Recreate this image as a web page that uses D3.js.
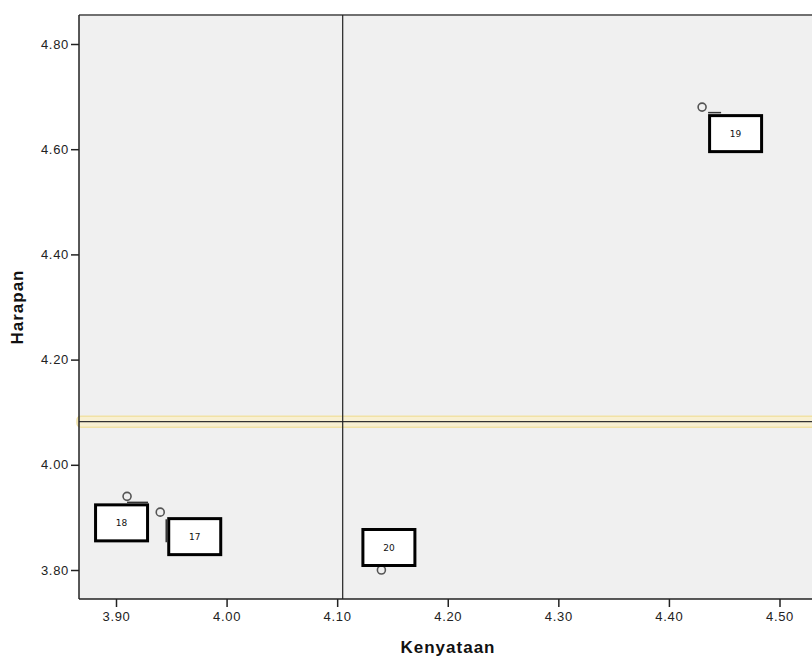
<!DOCTYPE html>
<html><head><meta charset="utf-8">
<script src="https://cdn.jsdelivr.net/npm/d3@7/dist/d3.min.js"></script>
<style>body{margin:0;background:#fff}svg{display:block}</style>
</head><body>
<svg id="c" width="812" height="668"></svg>
<script>
// ---- data ----
const caseLabels = ["17", "18", "19", "20"];
const kenyataan = [3.94, 3.91, 4.43, 4.14];
const harapan = [3.91, 3.94, 4.68, 3.80];
const meanKenyataan = 4.105;
const meanHarapan = 4.082;
const xTicks = [3.90, 4.00, 4.10, 4.20, 4.30, 4.40, 4.50];
const yTicks = [3.80, 4.00, 4.20, 4.40, 4.60, 4.80];
const xTitle = "Kenyataan";
const yTitle = "Harapan";

// ---- layout ----
const plot = {left: 79, top: 15, right: 815, bottom: 599};
const labelOffsets = [[7, 5], [-33, 7], [6, 7], [-20, -42]];
// short visible connector stubs (relative to point): [x1,y1,x2,y2] or null
const connectors = [[6, 7, 6, 30], [0, 6, 21, 6], [6, 5.5, 19, 5.5], null];
const boxW = 55, boxH = 39;

const svg = d3.select("#c");
const x = d3.scaleLinear().domain([3.90, 4.50]).range([116, 779.5]);
const y = d3.scaleLinear().domain([3.80, 4.80]).range([570, 44]);

// plot background
svg.append("rect").attr("x", plot.left).attr("y", plot.top)
  .attr("width", plot.right - plot.left).attr("height", plot.bottom - plot.top)
  .attr("fill", "#f0f0f0");
// top border
svg.append("line").attr("x1", plot.left).attr("x2", plot.right)
  .attr("y1", plot.top).attr("y2", plot.top)
  .attr("stroke", "#707070").attr("stroke-width", 2);

// reference lines
svg.append("rect").attr("x", plot.left - 2).attr("y", y(meanHarapan) - 5.5)
  .attr("width", plot.right - plot.left + 6).attr("height", 11).attr("rx", 4)
  .attr("fill", "#f8f0d2").attr("stroke", "#f1e2a6").attr("stroke-width", 1.5);
svg.append("line").attr("x1", plot.left).attr("x2", plot.right)
  .attr("y1", y(meanHarapan)).attr("y2", y(meanHarapan))
  .attr("stroke", "#333").attr("stroke-width", 1.2);
svg.append("line").attr("x1", x(meanKenyataan)).attr("x2", x(meanKenyataan))
  .attr("y1", plot.top).attr("y2", plot.bottom)
  .attr("stroke", "#222").attr("stroke-width", 1.2);

// axes
const xAxis = d3.axisBottom(x).tickValues(xTicks).tickFormat(d3.format(".2f"))
  .tickSize(8).tickSizeOuter(0);
const yAxis = d3.axisLeft(y).tickValues(yTicks).tickFormat(d3.format(".2f"))
  .tickSize(8).tickSizeOuter(0);
const gx = svg.append("g").attr("transform", `translate(0,${plot.bottom})`).call(xAxis);
const gy = svg.append("g").attr("transform", `translate(${plot.left},0)`).call(yAxis);
gx.select(".domain").remove();
gy.select(".domain").remove();
[gx, gy].forEach(g => {
  g.selectAll("line").attr("stroke", "#222").attr("stroke-width", 1.5);
  g.selectAll("text").attr("font-family", "Liberation Sans, Arial, sans-serif")
    .attr("font-size", 13).attr("letter-spacing", 0.7).attr("fill", "#222");
});
gx.selectAll("text").attr("dy", "0.71em").attr("y", 13);
gy.selectAll("text").attr("x", -10);
// axis lines
svg.append("line").attr("x1", plot.left).attr("x2", plot.right)
  .attr("y1", plot.bottom).attr("y2", plot.bottom).attr("stroke", "#222").attr("stroke-width", 1.5);
svg.append("line").attr("x1", plot.left).attr("x2", plot.left)
  .attr("y1", plot.top).attr("y2", plot.bottom).attr("stroke", "#222").attr("stroke-width", 1.5);

// titles
svg.append("text").attr("x", 448).attr("y", 653).attr("text-anchor", "middle")
  .attr("font-family", "Liberation Sans, Arial, sans-serif").attr("font-weight", "bold")
  .attr("font-size", 17).attr("letter-spacing", 1).attr("fill", "#111").text(xTitle);
svg.append("text").attr("transform", "translate(23,307) rotate(-90)").attr("text-anchor", "middle")
  .attr("font-family", "Liberation Sans, Arial, sans-serif").attr("font-weight", "bold")
  .attr("font-size", 17).attr("letter-spacing", 1).attr("fill", "#111").text(yTitle);

// points + labels
const pts = caseLabels.map((c, i) => ({c, xv: kenyataan[i], yv: harapan[i], off: labelOffsets[i], con: connectors[i]}));
const g = svg.append("g");
g.selectAll("line.con").data(pts.filter(d => d.con)).join("line").attr("class", "con")
  .attr("x1", d => x(d.xv) + d.con[0]).attr("y1", d => y(d.yv) + d.con[1])
  .attr("x2", d => x(d.xv) + d.con[2]).attr("y2", d => y(d.yv) + d.con[3])
  .attr("stroke", "#333").attr("stroke-width", 1.5);
g.selectAll("circle").data(pts).join("circle")
  .attr("cx", d => x(d.xv)).attr("cy", d => y(d.yv)).attr("r", 4)
  .attr("fill", "none").attr("stroke", "#555").attr("stroke-width", 1.6);
const lab = g.selectAll("g.lab").data(pts).join("g").attr("class", "lab")
  .attr("transform", d => `translate(${x(d.xv) + d.off[0]},${y(d.yv) + d.off[1]})`);
lab.append("rect").attr("x", 1.5).attr("y", 1.5).attr("width", boxW - 3).attr("height", boxH - 3)
  .attr("fill", "#fff").attr("stroke", "#000").attr("stroke-width", 3);
lab.append("text").attr("x", boxW / 2).attr("y", boxH / 2 + 3).attr("text-anchor", "middle")
  .attr("font-family", "DejaVu Sans, sans-serif").attr("font-size", 9).attr("fill", "#111")
  .text(d => d.c);
</script>
</body></html>
